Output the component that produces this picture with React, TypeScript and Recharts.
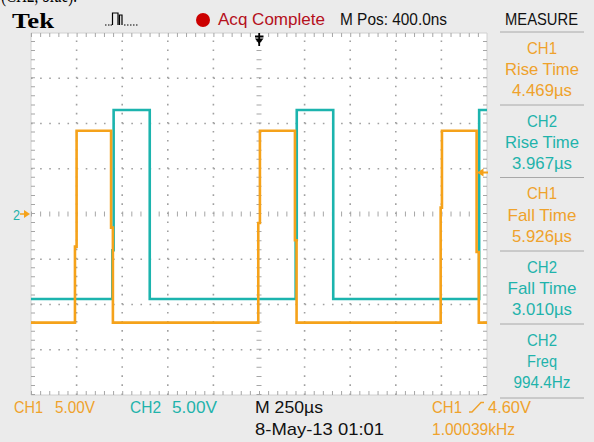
import React from 'react';
import { LineChart, Line, XAxis, YAxis, ReferenceLine, ReferenceArea } from 'recharts';

// time in microseconds (250 us/div), volts (5 V/div)
const ch1Times = [0, 241, 241, 250, 250, 439, 439, 449, 449, 1246, 1246, 1255, 1255, 1447, 1447, 1456, 1456, 2246, 2246, 2253, 2253, 2443, 2443, 2455, 2455, 2500];
const ch1Volts = [-12, -12, -3.6, -3.6, 9.2, 9.2, -1.5, -1.5, -12, -12, -1.0, -1.0, 9.2, 9.2, -2.9, -2.9, -12, -12, 0.7, 0.7, 9.2, 9.2, -4.2, -4.2, -12, -12];
const ch2Times = [0, 446, 446, 453, 453, 651, 651, 1451, 1451, 1457, 1457, 1657, 1657, 2457, 2457, 2500];
const ch2Volts = [-9.4, -9.4, -4, -4, 11.5, 11.5, -9.4, -9.4, -2.9, -2.9, 11.5, 11.5, -9.4, -9.4, 11.5, 11.5];

const gridTimes = [250, 500, 750, 1000, 1500, 1750, 2000, 2250];
const gridVolts = [-15, -10, -5, 5, 10, 15];

const ch1 = ch1Times.map((t, i) => ({ t, v: ch1Volts[i] }));
const ch2 = ch2Times.map((t, i) => ({ t, v: ch2Volts[i] }));

const ORANGE = '#f5a21a';
const CYAN = '#1cb4ae';
const ORANGE_TXT = '#efa22c';
const CYAN_TXT = '#1fb3ab';
const FONT = "'Liberation Sans', Arial, sans-serif";

const measures = [
  { ch: 'CH1', name: 'Rise Time', val: '4.469µs', color: ORANGE_TXT, nw: 74 },
  { ch: 'CH2', name: 'Rise Time', val: '3.967µs', color: CYAN_TXT, nw: 74 },
  { ch: 'CH1', name: 'Fall Time', val: '5.926µs', color: ORANGE_TXT, nw: 69 },
  { ch: 'CH2', name: 'Fall Time', val: '3.010µs', color: CYAN_TXT, nw: 69 },
  { ch: 'CH2', name: 'Freq', val: '994.4Hz', color: CYAN_TXT, nw: 30 },
];
const sepY = [32, 105, 177.5, 251, 324, 398];

const T = (p: any) => (
  <text
    x={p.x}
    y={p.y}
    fontFamily={p.ff || FONT}
    fontSize={p.fs || 17}
    fill={p.c || '#111'}
    fontWeight={p.fw}
    textAnchor={p.a || 'start'}
    textLength={p.w}
    lengthAdjust="spacingAndGlyphs"
  >
    {p.children}
  </text>
);

export default function App() {
  return (
    <div style={{ position: 'absolute', left: 0, top: 0, width: 594, height: 442, background: '#ebebeb', overflow: 'hidden' }}>
      <LineChart width={594} height={442} margin={{ top: 33, right: 107, bottom: 47, left: 31 }}>
        <XAxis type="number" dataKey="t" domain={[0, 2500]} hide allowDataOverflow />
        <YAxis type="number" dataKey="v" domain={[-20, 20]} hide allowDataOverflow />
        <ReferenceArea x1={0} x2={2500} y1={-20} y2={20} fill="#ffffff" fillOpacity={1} stroke="#d0d0d0" />
        {gridTimes.map((t) => (
          <ReferenceLine key={'gx' + t} x={t} stroke="#a0a0a0" strokeWidth={1.6} strokeDasharray="1.6 7.45" />
        ))}
        {gridVolts.map((v) => (
          <ReferenceLine key={'gy' + v} y={v} stroke="#a0a0a0" strokeWidth={1.6} strokeDasharray="1.6 7.52" />
        ))}
        <ReferenceLine y={0} stroke="#a6a6a6" strokeWidth={5} strokeDasharray="1 8.12" />
        <ReferenceLine x={1250} stroke="#a6a6a6" strokeWidth={5} strokeDasharray="1 8.05" />
        <ReferenceLine y={19.78} stroke="#a6a6a6" strokeWidth={4} strokeDasharray="1 8.12" />
        <ReferenceLine y={-19.78} stroke="#a6a6a6" strokeWidth={4} strokeDasharray="1 8.12" />
        <ReferenceLine x={11} stroke="#a6a6a6" strokeWidth={4} strokeDasharray="1 8.05" />
        <ReferenceLine x={2489} stroke="#a6a6a6" strokeWidth={4} strokeDasharray="1 8.05" />
        <Line data={ch2} dataKey="v" type="linear" stroke={CYAN} strokeWidth={2.6} dot={false} isAnimationActive={false} />
        <Line data={ch1} dataKey="v" type="linear" stroke={ORANGE} strokeWidth={2.6} dot={false} isAnimationActive={false} />
      </LineChart>
      <svg width={594} height={442} style={{ position: 'absolute', left: 0, top: 0, pointerEvents: 'none' }}>
        <T x={1} y={2} ff="'Liberation Serif', 'Times New Roman', serif" fs={22} c="#000" w={76}>(CH2, blue).</T>
        <T x={12} y={28} ff="'Liberation Serif', 'Times New Roman', serif" fs={22} fw="bold" c="#000" w={42}>Tek</T>
        {/* acquisition icon */}
        <path d="M105,25h1.5M108,25h1.5M110.5,25h1.5" stroke="#000" strokeWidth={1.2} />
        <path d="M112.5,25V13H118V25M119.5,25V15H122V25" stroke="#000" strokeWidth={1.2} fill="none" />
        <path d="M124,25h1.5M127,25h1.5M130,25h1.5M133,25h1.5M136,25h1.5" stroke="#000" strokeWidth={1.2} />
        <circle cx={203} cy={20} r={7} fill="#cc0000" />
        <T x={218} y={25} c="#b5101c" w={107}>Acq Complete</T>
        <T x={340} y={25} c="#111" w={107}>M Pos: 400.0ns</T>
        <T x={505} y={25} c="#111" w={73}>MEASURE</T>
        {sepY.map((y) => (
          <line key={'s' + y} x1={500} x2={584} y1={y} y2={y} stroke="#a8a8a8" strokeWidth={1} />
        ))}
        {measures.map((m, i) => (
          <g key={'m' + i}>
            <T x={542} y={sepY[i] + 21.5} a="middle" c={m.color} w={30}>{m.ch}</T>
            <T x={542} y={sepY[i] + 43} a="middle" c={m.color} w={m.nw}>{m.name}</T>
            <T x={542} y={sepY[i] + 64} a="middle" c={m.color} w={m.val.endsWith('Hz') ? 57 : 60}>{m.val}</T>
          </g>
        ))}
        {/* trigger position marker */}
        <path d="M255,36.5H263.5M259.2,33V46" stroke="#000" strokeWidth={1.8} />
        <path d="M255,38.5L263.5,38.5L259.2,44Z" fill="#000" />
        {/* trigger level marker */}
        <path d="M477,172.5L483.5,168.5L483.5,176.5Z" fill={ORANGE} />
        <path d="M483,172.5H488" stroke={ORANGE} strokeWidth={2} />
        {/* ground markers */}
        <T x={13} y={219.5} fs={15} c={CYAN_TXT} w={7}>2</T>
        <path d="M20,214H25" stroke={ORANGE} strokeWidth={1.5} />
        <path d="M24,210L30,214L24,218Z" fill={ORANGE} />
        {/* bottom status */}
        <T x={14} y={413} c={ORANGE_TXT} w={29}>CH1</T>
        <T x={55} y={413} c={ORANGE_TXT} w={40}>5.00V</T>
        <T x={130} y={413} c={CYAN_TXT} w={31}>CH2</T>
        <T x={172} y={413} c={CYAN_TXT} w={45}>5.00V</T>
        <T x={255} y={413} c="#111" w={68}>M 250µs</T>
        <T x={255} y={435} c="#111" w={129}>8-May-13 01:01</T>
        <T x={432} y={413} c={ORANGE_TXT} w={30}>CH1</T>
        <path d="M469,412H472L481,402.5H484" stroke={ORANGE_TXT} strokeWidth={1.4} fill="none" />
        <T x={488} y={413} c={ORANGE_TXT} w={43}>4.60V</T>
        <T x={432} y={435} c={ORANGE_TXT} w={83}>1.00039kHz</T>
      </svg>
    </div>
  );
}
